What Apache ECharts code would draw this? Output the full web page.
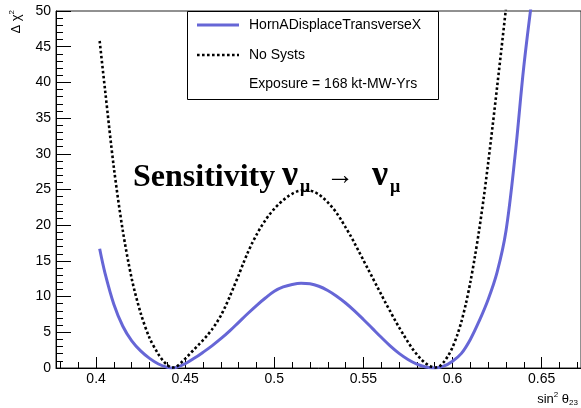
<!DOCTYPE html>
<html>
<head>
<meta charset="utf-8">
<script src="https://cdn.jsdelivr.net/npm/echarts@6/dist/echarts.min.js"></script>
<style>
  html, body { margin: 0; padding: 0; background: #fff; }
  #chart { width: 581px; height: 408px; }
</style>
</head>
<body>
<div id="chart"></div>
<script>
// Delta chi^2 scan vs sin^2(theta23): with HornADisplaceTransverseX systematic and without systematics
const sin2Horn = [0.402, 0.405, 0.41, 0.415, 0.42, 0.425, 0.43, 0.435, 0.44, 0.4425, 0.445, 0.45, 0.455, 0.46, 0.465, 0.47, 0.475, 0.48, 0.485, 0.49, 0.495, 0.5, 0.505, 0.51, 0.515, 0.52, 0.525, 0.53, 0.535, 0.54, 0.545, 0.55, 0.555, 0.56, 0.565, 0.57, 0.575, 0.58, 0.585, 0.59, 0.595, 0.6, 0.605, 0.61, 0.615, 0.62, 0.625, 0.63, 0.635, 0.64, 0.645];
const chi2Horn = [16.7, 13.3, 8.9, 5.85, 3.8, 2.4, 1.35, 0.56, 0.08, 0.0, 0.08, 0.6, 1.35, 2.2, 3.1, 4.1, 5.2, 6.4, 7.6, 8.75, 9.8, 10.75, 11.35, 11.7, 11.87, 11.8, 11.45, 10.85, 10.05, 9.1, 8.0, 6.8, 5.55, 4.3, 3.1, 2.05, 1.2, 0.55, 0.15, 0.0, 0.25, 0.95, 2.05, 4.0, 6.6, 9.6, 13.4, 19.2, 29.5, 42.2, 52.5];

const sin2NoSyst = [0.402, 0.405, 0.41, 0.415, 0.42, 0.425, 0.43, 0.435, 0.4375, 0.44, 0.4425, 0.445, 0.4475, 0.45, 0.4525, 0.455, 0.4575, 0.46, 0.4625, 0.465, 0.4675, 0.47, 0.4725, 0.475, 0.4775, 0.48, 0.4825, 0.485, 0.4875, 0.49, 0.4925, 0.495, 0.4975, 0.5, 0.5025, 0.505, 0.5075, 0.51, 0.5125, 0.515, 0.5175, 0.52, 0.5225, 0.525, 0.5275, 0.53, 0.5325, 0.535, 0.5375, 0.54, 0.5425, 0.545, 0.5475, 0.55, 0.5525, 0.555, 0.5575, 0.56, 0.5625, 0.565, 0.5675, 0.57, 0.5725, 0.575, 0.5775, 0.58, 0.5825, 0.585, 0.5875, 0.59, 0.5925, 0.595, 0.5975, 0.6, 0.6025, 0.605, 0.6075, 0.61, 0.6125, 0.615, 0.6175, 0.62, 0.6225, 0.625, 0.6275, 0.63];
const chi2NoSyst = [45.8, 39.0, 28.0, 19.2, 12.5, 7.7, 4.2, 1.9, 1.05, 0.4, 0.05, 0.2, 0.7, 1.3, 1.95, 2.6, 3.25, 3.9, 4.6, 5.4, 6.3, 7.35, 8.6, 10.0, 11.5, 13.0, 14.6, 16.1, 17.45, 18.65, 19.75, 20.7, 21.55, 22.3, 22.95, 23.5, 24.0, 24.4, 24.7, 24.85, 24.9, 24.85, 24.65, 24.3, 23.8, 23.2, 22.5, 21.7, 20.75, 19.7, 18.65, 17.5, 16.3, 15.1, 13.9, 12.7, 11.5, 10.3, 9.1, 7.95, 6.8, 5.7, 4.65, 3.65, 2.7, 1.9, 1.2, 0.65, 0.25, 0.05, 0.2, 0.8, 1.7, 2.9, 4.5, 6.5, 9.0, 12.0, 15.5, 19.4, 23.8, 28.7, 33.9, 39.3, 44.8, 50.4];

const xMajorTicks = [0.4, 0.45, 0.5, 0.55, 0.6, 0.65];
const xMinorTicks = [0.38, 0.39, 0.41, 0.42, 0.43, 0.44, 0.46, 0.47, 0.48, 0.49, 0.51, 0.52, 0.53, 0.54, 0.56, 0.57, 0.58, 0.59, 0.61, 0.62, 0.63, 0.64, 0.66, 0.67];

const seriesNames = ['HornADisplaceTransverseX', 'No Systs'];
const exposureText = 'Exposure = 168 kt-MW-Yrs';

const X_MIN = 0.3775, X_MAX = 0.6721;
const SANS = '"Liberation Sans", Arial, sans-serif';
const SERIF = '"Liberation Serif", "Times New Roman", serif';
const HORN_COLOR = '#6666d6';

const pairs = (xs, ys) => xs.map((x, i) => [x, ys[i]]);

const chart = echarts.init(document.getElementById('chart'), null, { renderer: 'canvas' });

const baseX = {
  type: 'value', min: X_MIN, max: X_MAX, position: 'bottom',
  splitLine: { show: false }
};

chart.setOption({
  animation: false,
  backgroundColor: '#fff',
  grid: {
    left: 56, right: -2, top: 11, bottom: 40,
    show: true, borderColor: '#222', borderWidth: 1, backgroundColor: 'transparent'
  },
  xAxis: [
    Object.assign({}, baseX, {
      axisLine: { show: true, lineStyle: { color: '#000', width: 1 } },
      axisTick: { show: true, inside: true, length: 11, customValues: xMajorTicks, lineStyle: { color: '#000' } },
      axisLabel: {
        show: true, customValues: xMajorTicks, margin: 4,
        fontFamily: SANS, fontSize: 14, color: '#000',
        formatter: v => String(Math.round(v * 100) / 100)
      }
    }),
    Object.assign({}, baseX, {
      axisLine: { show: false },
      axisTick: { show: true, inside: true, length: 6, customValues: xMinorTicks, lineStyle: { color: '#000' } },
      axisLabel: { show: false }
    })
  ],
  yAxis: {
    type: 'value', min: 0, max: 50, interval: 5,
    axisLine: { show: true, lineStyle: { color: '#000', width: 1 } },
    axisTick: { show: true, inside: true, length: 15, lineStyle: { color: '#000' } },
    minorTick: { show: true, splitNumber: 5, length: 7, lineStyle: { color: '#000' } },
    axisLabel: { margin: 5, fontFamily: SANS, fontSize: 14, color: '#000' },
    splitLine: { show: false }
  },
  series: [
    {
      name: seriesNames[0], type: 'line', xAxisIndex: 0,
      data: pairs(sin2Horn, chi2Horn),
      showSymbol: false, smooth: 0.35, clip: true,
      lineStyle: { color: HORN_COLOR, width: 3 }
    },
    {
      name: seriesNames[1], type: 'line', xAxisIndex: 0,
      data: pairs(sin2NoSyst, chi2NoSyst),
      showSymbol: false, smooth: 0.3, clip: true,
      lineStyle: { color: '#000', width: 2.6, type: [2.6, 2.4], cap: 'butt' }
    }
  ],
  graphic: [
    // legend box
    { type: 'rect', z: 100, shape: { x: 187.5, y: 11.5, width: 251, height: 88 },
      style: { fill: '#fff', stroke: '#000', lineWidth: 1 } },
    { type: 'line', z: 101, shape: { x1: 197, y1: 25, x2: 239, y2: 25 },
      style: { stroke: HORN_COLOR, lineWidth: 3 } },
    { type: 'text', z: 101, x: 249, y: 25,
      style: { text: seriesNames[0], fontFamily: SANS, fontSize: 14, fill: '#000', verticalAlign: 'middle' } },
    { type: 'line', z: 101, shape: { x1: 197, y1: 55, x2: 239, y2: 55 },
      style: { stroke: '#000', lineWidth: 2.6, lineDash: [2.6, 2.4] } },
    { type: 'text', z: 101, x: 249, y: 55,
      style: { text: seriesNames[1], fontFamily: SANS, fontSize: 14, fill: '#000', verticalAlign: 'middle' } },
    { type: 'text', z: 101, x: 249, y: 84,
      style: { text: exposureText, fontFamily: SANS, fontSize: 14, fill: '#000', verticalAlign: 'middle' } },

    // y axis title
    { type: 'text', z: 101, x: 16, y: 10, rotation: Math.PI / 2,
      style: {
        text: '{m|Δ χ}{sup|2}', align: 'right', verticalAlign: 'middle',
        rich: {
          m: { fontFamily: SANS, fontSize: 13, fill: '#000', lineHeight: 16 },
          sup: { fontFamily: SANS, fontSize: 8, fill: '#000', lineHeight: 9, verticalAlign: 'top' }
        }
      } },

    // x axis title
    { type: 'text', z: 101, x: 578, y: 399,
      style: {
        text: '{m|sin}{sup|2}{m| θ}{sub|23}', align: 'right', verticalAlign: 'middle',
        rich: {
          m: { fontFamily: SANS, fontSize: 13, fill: '#000', lineHeight: 16 },
          sup: { fontFamily: SANS, fontSize: 8, fill: '#000', lineHeight: 9, verticalAlign: 'top' },
          sub: { fontFamily: SANS, fontSize: 8, fill: '#000', lineHeight: 9, verticalAlign: 'bottom' }
        }
      } },

    // big caption: Sensitivity nu_mu -> nu_mu
    { type: 'text', z: 101, x: 133, y: 194,
      style: { text: 'Sensitivity', fontFamily: SERIF, fontWeight: 'bold', fontSize: 32, fill: '#000', verticalAlign: 'bottom' } },
    { type: 'text', z: 101, x: 282, y: 194,
      style: { text: 'ν', fontFamily: SERIF, fontWeight: 'bold', fontSize: 36, fill: '#000', verticalAlign: 'bottom' } },
    { type: 'text', z: 101, x: 300, y: 196,
      style: { text: 'μ', fontFamily: SERIF, fontWeight: 'bold', fontSize: 18, fill: '#000', verticalAlign: 'bottom' } },
    { type: 'text', z: 101, x: 326, y: 191,
      style: { text: '→', fontFamily: SERIF, fontSize: 28, fill: '#000', verticalAlign: 'bottom' } },
    { type: 'text', z: 101, x: 372, y: 194,
      style: { text: 'ν', fontFamily: SERIF, fontWeight: 'bold', fontSize: 36, fill: '#000', verticalAlign: 'bottom' } },
    { type: 'text', z: 101, x: 390, y: 196,
      style: { text: 'μ', fontFamily: SERIF, fontWeight: 'bold', fontSize: 18, fill: '#000', verticalAlign: 'bottom' } }
  ]
});
</script>
</body>
</html>
